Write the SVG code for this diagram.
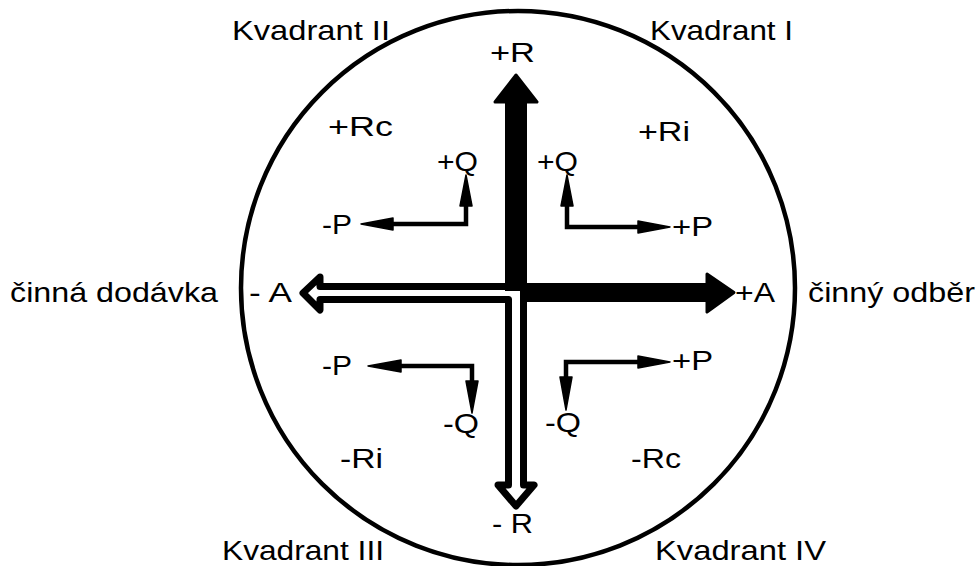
<svg xmlns="http://www.w3.org/2000/svg" width="979" height="566" viewBox="0 0 979 566">
<style>
text{font-family:"Liberation Sans",Arial,sans-serif;font-size:27.5px;fill:#000}
.thin{fill:none;stroke:#000;stroke-width:4.5}
.head{fill:#000;stroke:#000;stroke-width:1.5;stroke-linejoin:round}
.big{fill:#000;stroke:#000;stroke-width:3;stroke-linejoin:round}
.open{fill:#fff;stroke:#000;stroke-width:7;stroke-linejoin:round}
</style>
<rect width="979" height="566" fill="#fff"/>
<g id="circle"><circle cx="518" cy="288" r="277" fill="none" stroke="#000" stroke-width="4.5"/></g>
<g id="connectors">
  <path class="open" d="M320,286.5 L320,277 L303,293 L320,310 L320,299.5 L508.5,299.5 L508.5,485 L498,485 L516,506 L534,485 L523.5,485 L523.5,286.5 Z"/>
  <rect x="505" y="100" width="22" height="191" fill="#000"/>
  <polygon class="big" points="495,102 516,75 537,102"/>
  <rect x="521" y="283" width="188" height="19" fill="#000"/>
  <polygon class="big" points="707,274 734,292.5 707,312"/>
  <polyline class="thin" points="393,224 466,224 466,205"/>
  <polygon class="head" points="466,175 460,206 472,206"/>
  <polygon class="head" points="361,224 393,218 393,230"/>
  <polyline class="thin" points="567,205 567,227 638,227"/>
  <polygon class="head" points="567,175 561,206 573,206"/>
  <polygon class="head" points="670,227 638,221 638,233"/>
  <polyline class="thin" points="401,366 472,366 472,382"/>
  <polygon class="head" points="368,366 401,360 401,372"/>
  <polygon class="head" points="472,413 466,381 478,381"/>
  <polyline class="thin" points="566,378 566,362 638,362"/>
  <polygon class="head" points="670,362 638,356 638,368"/>
  <polygon class="head" points="566,410 560,377 572,377"/>
</g>
<g id="labels">
  <text x="232" y="40" textLength="158" lengthAdjust="spacingAndGlyphs">Kvadrant II</text>
  <text x="650" y="40" textLength="143" lengthAdjust="spacingAndGlyphs">Kvadrant I</text>
  <text x="490" y="62" textLength="45" lengthAdjust="spacingAndGlyphs">+R</text>
  <text x="328" y="136" textLength="65" lengthAdjust="spacingAndGlyphs">+Rc</text>
  <text x="638" y="141" textLength="52" lengthAdjust="spacingAndGlyphs">+Ri</text>
  <text x="437" y="171" textLength="41" lengthAdjust="spacingAndGlyphs">+Q</text>
  <text x="537" y="171" textLength="41" lengthAdjust="spacingAndGlyphs">+Q</text>
  <text x="322" y="234" textLength="30" lengthAdjust="spacingAndGlyphs">-P</text>
  <text x="672" y="236" textLength="41" lengthAdjust="spacingAndGlyphs">+P</text>
  <text x="10" y="302" textLength="208" lengthAdjust="spacingAndGlyphs">činná dodávka</text>
  <text x="249" y="302" textLength="43" lengthAdjust="spacingAndGlyphs">- A</text>
  <text x="735" y="302" textLength="40" lengthAdjust="spacingAndGlyphs">+A</text>
  <text x="808" y="302" textLength="167" lengthAdjust="spacingAndGlyphs">činný odběr</text>
  <text x="322" y="375" textLength="30" lengthAdjust="spacingAndGlyphs">-P</text>
  <text x="672" y="370" textLength="41" lengthAdjust="spacingAndGlyphs">+P</text>
  <text x="443" y="433" textLength="36" lengthAdjust="spacingAndGlyphs">-Q</text>
  <text x="545" y="432" textLength="36" lengthAdjust="spacingAndGlyphs">-Q</text>
  <text x="340" y="468" textLength="43" lengthAdjust="spacingAndGlyphs">-Ri</text>
  <text x="631" y="468" textLength="50" lengthAdjust="spacingAndGlyphs">-Rc</text>
  <text x="492" y="533" textLength="41" lengthAdjust="spacingAndGlyphs">- R</text>
  <text x="222" y="560" textLength="162" lengthAdjust="spacingAndGlyphs">Kvadrant III</text>
  <text x="655" y="560" textLength="171" lengthAdjust="spacingAndGlyphs">Kvadrant IV</text>
</g>
</svg>
